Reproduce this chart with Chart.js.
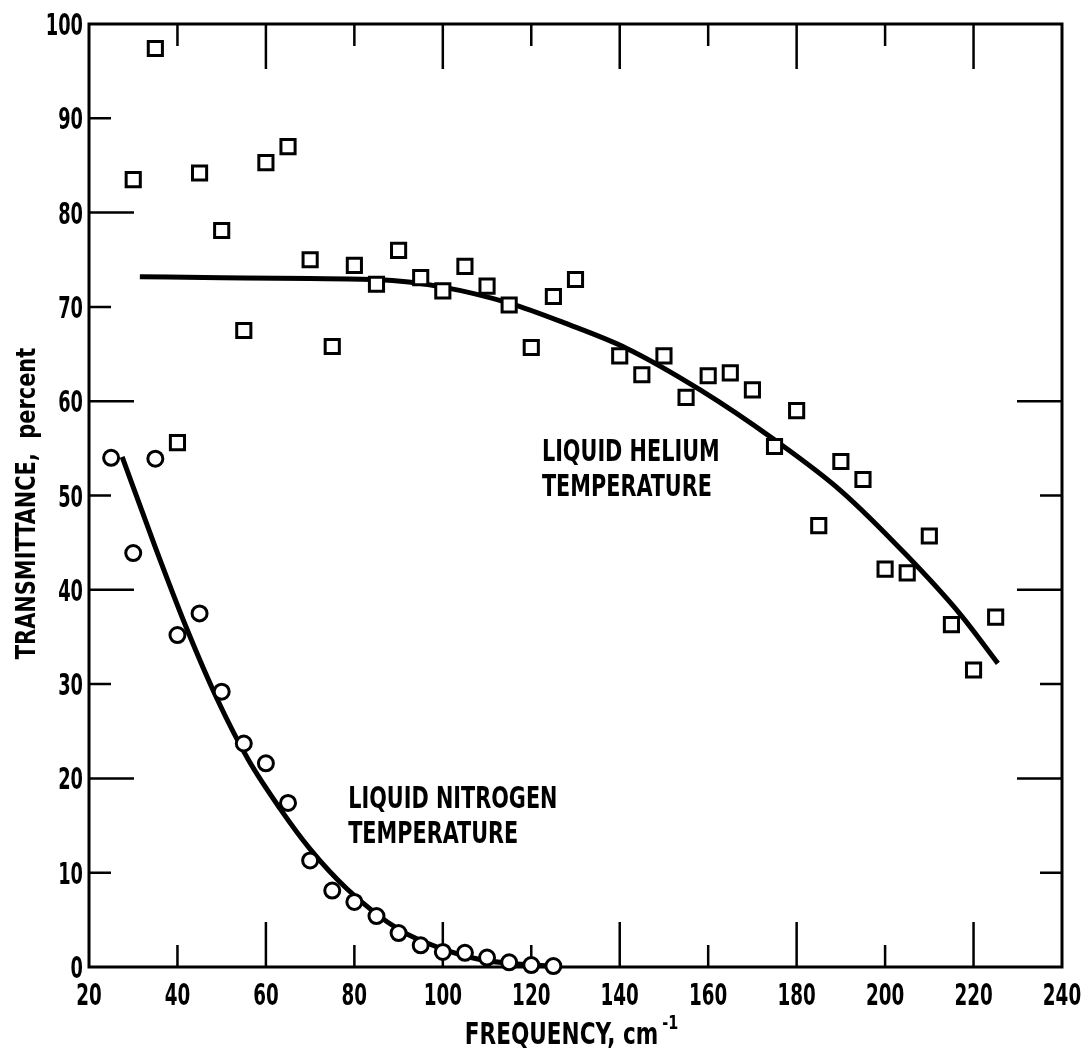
<!DOCTYPE html>
<html>
<head>
<meta charset="utf-8">
<script src="https://cdn.jsdelivr.net/npm/chart.js@4.4.1/dist/chart.umd.min.js"></script>
<style>
  html, body { margin: 0; padding: 0; background: #fff; }
  #wrap { width: 1088px; height: 1056px; position: relative; }
</style>
</head>
<body>
<div id="wrap"><canvas id="chart"></canvas></div>
<script>
// measured points, liquid helium (squares)
const heliumFreq = [30, 35, 40, 45, 50, 55, 60, 65, 70, 75, 80, 85, 90, 95, 100, 105, 110, 115, 120, 125, 130,
  140, 145, 150, 155, 160, 165, 170, 175, 180, 185, 190, 195, 200, 205, 210, 215, 220, 225];
const heliumTrans = [83.5, 97.4, 55.6, 84.2, 78.1, 67.5, 85.3, 87.0, 75.0, 65.8, 74.4, 72.4, 76.0, 73.1, 71.7, 74.3, 72.2, 70.2, 65.7, 71.1, 72.9,
  64.8, 62.8, 64.8, 60.4, 62.7, 63.0, 61.2, 55.2, 59.0, 46.8, 53.6, 51.7, 42.2, 41.8, 45.7, 36.3, 31.5, 37.1];

// smooth curve drawn through the helium data
const heliumFitFreq = [31.5, 50, 70, 85, 100, 115, 127.5, 141.6, 158.2, 175, 190, 205, 217, 225.5];
const heliumFitTrans = [73.2, 73.1, 73.0, 72.9, 72.1, 70.4, 68.3, 65.6, 61.2, 55.9, 50.5, 43.6, 37.4, 32.2];

// measured points, liquid nitrogen (circles)
const nitrogenFreq = [25, 30, 35, 40, 45, 50, 55, 60, 65, 70, 75, 80, 85, 90, 95, 100, 105, 110, 115, 120, 125];
const nitrogenTrans = [54.0, 43.9, 53.9, 35.2, 37.5, 29.2, 23.7, 21.6, 17.4, 11.3, 8.1, 6.9, 5.4, 3.6, 2.3, 1.6, 1.5, 1.0, 0.5, 0.2, 0.1];

// smooth curve drawn through the nitrogen data
const nitrogenFitFreq = [27.5, 35, 42, 49, 56, 63.2, 70, 78.3, 90.3, 99.4, 108.4, 126.5];
const nitrogenFitTrans = [54.1, 44.5, 36.0, 28.4, 22.0, 16.8, 12.5, 8.3, 3.9, 2.0, 0.8, 0];

const xMin = 20, xMax = 240, xStep = 20;
const yMin = 0, yMax = 100, yStep = 10;

// curve labels, anchored at the baseline of the first line
const notes = [
  { x: 122.4, y: 53.7, lines: ['LIQUID HELIUM', 'TEMPERATURE'] },
  { x: 78.6, y: 16.9, lines: ['LIQUID NITROGEN', 'TEMPERATURE'] }
];

const FONT = '"DejaVu Sans Condensed", "DejaVu Sans", sans-serif';

function pairs(xs, ys) {
  return xs.map((x, i) => ({ x, y: ys[i] }));
}

// old lettering is narrow: squeeze text horizontally
function squeezed(ctx, text, x, y, sx, align, rot) {
  ctx.save();
  ctx.translate(x, y);
  if (rot) ctx.rotate(rot);
  ctx.scale(sx, 1);
  ctx.textAlign = align || 'left';
  ctx.fillText(text, 0, 0);
  ctx.restore();
}

const frameTicks = {
  id: 'frameTicks',
  beforeDatasetsDraw(chart) {
    const { ctx, chartArea: a, scales } = chart;
    const xs = scales.x, ys = scales.y;
    const LONG = 45, SHORT = 22;
    ctx.save();
    ctx.strokeStyle = '#000';
    ctx.lineWidth = 3;
    ctx.strokeRect(a.left, a.top, a.right - a.left, a.bottom - a.top);
    ctx.lineWidth = 2.5;
    ctx.beginPath();
    xs.ticks.forEach(t => {
      const v = t.value;
      if (v <= xMin || v >= xMax) return;
      const len = (v - xMin) % (2 * xStep) === 0 ? LONG : SHORT;
      const px = xs.getPixelForValue(v);
      ctx.moveTo(px, a.bottom); ctx.lineTo(px, a.bottom - len);
      ctx.moveTo(px, a.top); ctx.lineTo(px, a.top + len);
    });
    ys.ticks.forEach(t => {
      const v = t.value;
      if (v <= yMin || v >= yMax) return;
      const len = v % (2 * yStep) === 0 ? LONG : SHORT;
      const py = ys.getPixelForValue(v);
      ctx.moveTo(a.left, py); ctx.lineTo(a.left + len, py);
      if (v <= 60) { ctx.moveTo(a.right, py); ctx.lineTo(a.right - len, py); }
    });
    ctx.stroke();

    // tick labels
    ctx.fillStyle = '#000';
    ctx.textBaseline = 'alphabetic';
    ctx.font = 'bold 30px ' + FONT;
    xs.ticks.forEach(t => {
      squeezed(ctx, t.label, xs.getPixelForValue(t.value), a.bottom + 38, 0.68, 'center');
    });
    ys.ticks.forEach(t => {
      squeezed(ctx, t.label, a.left - 6, ys.getPixelForValue(t.value) + 11, 0.66, 'right');
    });

    // axis titles
    const yTitle = chart.options.scales.y.title.text;
    ctx.font = 'bold 27px ' + FONT;
    squeezed(ctx, yTitle, 35, (a.top + a.bottom) / 2 + 8, 0.86, 'center', -Math.PI / 2);

    const xTitle = chart.options.scales.x.title.text;
    const sup = '-1';
    const sx = 0.8;
    ctx.font = 'bold 30px ' + FONT;
    const w1 = ctx.measureText(xTitle).width * sx;
    ctx.font = 'bold 20px ' + FONT;
    const w2 = ctx.measureText(sup).width * sx;
    const x0 = (a.left + a.right) / 2 - 4 - (w1 + 4 + w2) / 2;
    ctx.font = 'bold 30px ' + FONT;
    squeezed(ctx, xTitle, x0, a.bottom + 77, sx, 'left');
    ctx.font = 'bold 20px ' + FONT;
    squeezed(ctx, sup, x0 + w1 + 4, a.bottom + 62, sx, 'left');
    ctx.restore();
  },
  afterDatasetsDraw(chart) {
    const { ctx, scales } = chart;
    ctx.save();
    ctx.fillStyle = '#000';
    ctx.font = 'bold 30px ' + FONT;
    ctx.textBaseline = 'alphabetic';
    notes.forEach(n => {
      const px = scales.x.getPixelForValue(n.x);
      const py = scales.y.getPixelForValue(n.y);
      n.lines.forEach((s, i) => squeezed(ctx, s, px, py + i * 35, 0.77, 'left'));
    });
    ctx.restore();
  }
};

new Chart(document.getElementById('chart'), {
  type: 'scatter',
  data: {
    datasets: [
      {
        label: 'Liquid helium',
        data: pairs(heliumFreq, heliumTrans),
        pointStyle: 'rect',
        pointRadius: 10,
        borderColor: '#000',
        backgroundColor: '#fff',
        borderWidth: 3,
        clip: false
      },
      {
        label: 'Liquid nitrogen',
        data: pairs(nitrogenFreq, nitrogenTrans),
        pointStyle: 'circle',
        pointRadius: 7.5,
        borderColor: '#000',
        backgroundColor: '#fff',
        borderWidth: 3,
        clip: false
      },
      {
        label: 'Helium fit',
        data: pairs(heliumFitFreq, heliumFitTrans),
        showLine: true,
        pointRadius: 0,
        borderColor: '#000',
        borderWidth: 5,
        cubicInterpolationMode: 'monotone',
        clip: false
      },
      {
        label: 'Nitrogen fit',
        data: pairs(nitrogenFitFreq, nitrogenFitTrans),
        showLine: true,
        pointRadius: 0,
        borderColor: '#000',
        borderWidth: 5,
        cubicInterpolationMode: 'monotone',
        clip: false
      }
    ]
  },
  options: {
    responsive: true,
    maintainAspectRatio: false,
    animation: false,
    layout: { padding: { top: 24, right: 26, bottom: 0, left: 0 } },
    plugins: { legend: { display: false }, tooltip: { enabled: false } },
    scales: {
      x: {
        type: 'linear',
        min: xMin, max: xMax,
        grid: { display: false, drawTicks: false },
        border: { display: false },
        ticks: { stepSize: xStep, display: false },
        title: { display: false, text: 'FREQUENCY, cm' },
        afterFit(scale) { scale.height = 89; }
      },
      y: {
        type: 'linear',
        min: yMin, max: yMax,
        grid: { display: false, drawTicks: false },
        border: { display: false },
        ticks: { stepSize: yStep, display: false },
        title: { display: false, text: 'TRANSMITTANCE,  percent' },
        afterFit(scale) { scale.width = 89; }
      }
    }
  },
  plugins: [frameTicks]
});
</script>
</body>
</html>
